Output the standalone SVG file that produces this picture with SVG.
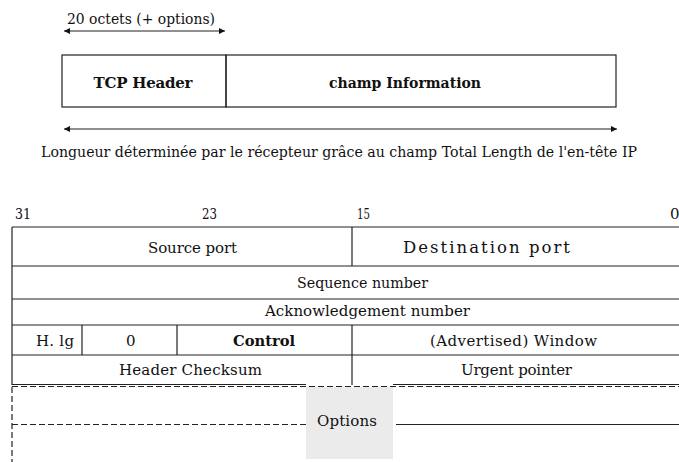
<svg xmlns="http://www.w3.org/2000/svg" width="679" height="462" viewBox="0 0 679 462">
  <style>
    text { font-family: "DejaVu Serif", "Liberation Serif", serif; font-size: 15px; fill: #111; }
    .b { font-weight: bold; }
    .mid { text-anchor: middle; }
    .big { font-size: 16.5px; }
    .ln { stroke: #222; stroke-width: 1.2; fill: none; }
    .dash { stroke: #222; stroke-width: 1.2; fill: none; stroke-dasharray: 6 3; }
  </style>
  <defs>
    <marker id="arr" viewBox="0 0 10 10" refX="10" refY="5" markerWidth="8" markerHeight="6" markerUnits="userSpaceOnUse" orient="auto-start-reverse">
      <path d="M0 0 L10 5 L0 10 Z" fill="#111"/>
    </marker>
  </defs>
  <rect width="679" height="462" fill="#fff"/>

  <!-- segment overview -->
  <g id="seg-size-label">
    <text x="67" y="24" textLength="148" lengthAdjust="spacingAndGlyphs">20 octets (+ options)</text>
  </g>
  <g id="tcp-header">
    <rect x="62" y="55" width="164" height="52" class="ln"/>
    <text x="143" y="88" class="b mid" textLength="99" lengthAdjust="spacing">TCP  Header</text>
  </g>
  <g id="champ-information">
    <rect x="226" y="55" width="390" height="52" class="ln"/>
    <text x="405" y="88" class="b mid" textLength="152" lengthAdjust="spacingAndGlyphs">champ Information</text>
  </g>
  <g id="length-label">
    <text x="41" y="157" textLength="596" lengthAdjust="spacingAndGlyphs">Longueur déterminée par le récepteur grâce au champ Total Length de l'en-tête IP</text>
  </g>

  <!-- header layout: bit positions -->
  <g id="bit-positions">
    <text x="15" y="219" textLength="16" lengthAdjust="spacingAndGlyphs">31</text>
    <text x="202" y="219" textLength="15" lengthAdjust="spacingAndGlyphs">23</text>
    <text x="357" y="219" textLength="13" lengthAdjust="spacingAndGlyphs">15</text>
    <text x="670" y="219">0</text>
  </g>

  <g id="grid">
    <line x1="12" y1="227" x2="679" y2="227" class="ln"/>
    <line x1="12" y1="266" x2="679" y2="266" class="ln"/>
    <line x1="12" y1="299" x2="679" y2="299" class="ln"/>
    <line x1="12" y1="325" x2="679" y2="325" class="ln"/>
    <line x1="12" y1="355" x2="679" y2="355" class="ln"/>
    <line x1="12" y1="384.5" x2="306" y2="384.5" class="ln"/>
    <line x1="393" y1="384.5" x2="679" y2="384.5" class="ln"/>
    <line x1="12" y1="227" x2="12" y2="385" class="ln"/>
    <line x1="352" y1="227" x2="352" y2="266" class="ln"/>
    <line x1="352" y1="325" x2="352" y2="385" class="ln"/>
    <line x1="82" y1="325" x2="82" y2="355" class="ln"/>
    <line x1="177" y1="325" x2="177" y2="355" class="ln"/>
  </g>

  <g id="source-port"><text x="148" y="253" textLength="89" lengthAdjust="spacing">Source port</text></g>
  <g id="destination-port"><text x="403" y="253" class="big" textLength="167" lengthAdjust="spacing">Destination port</text></g>
  <g id="sequence-number"><text x="297" y="288" textLength="131" lengthAdjust="spacingAndGlyphs">Sequence number</text></g>
  <g id="ack-number"><text x="265" y="316" textLength="205" lengthAdjust="spacing">Acknowledgement number</text></g>
  <g id="header-length"><text x="36" y="346" textLength="38" lengthAdjust="spacing">H. lg</text></g>
  <g id="reserved"><text x="126" y="346">0</text></g>
  <g id="control"><text x="233" y="346" class="b" textLength="62" lengthAdjust="spacingAndGlyphs">Control</text></g>
  <g id="window"><text x="430" y="346" textLength="167" lengthAdjust="spacing">(Advertised) Window</text></g>
  <g id="checksum"><text x="119" y="375" textLength="143" lengthAdjust="spacing">Header  Checksum</text></g>
  <g id="urgent-pointer"><text x="461" y="375" textLength="111" lengthAdjust="spacing">Urgent pointer</text></g>

  <g id="options">
    <rect x="306" y="387" width="87" height="72" fill="#ebebeb"/>
    <line x1="12" y1="386.5" x2="679" y2="386.5" class="dash"/>
    <line x1="12" y1="387" x2="12" y2="462" class="dash" stroke-dasharray="7 4"/>
    <line x1="12" y1="424.5" x2="306" y2="424.5" class="dash"/>
    <line x1="396" y1="424.5" x2="679" y2="424.5" class="ln"/>
    <text x="317" y="426" textLength="60" lengthAdjust="spacing">Options</text>
  </g>

  <!-- dimension arrows -->
  <g id="connectors">
    <line x1="64" y1="31" x2="225" y2="31" class="ln" marker-start="url(#arr)" marker-end="url(#arr)"/>
    <line x1="64" y1="129" x2="617" y2="129" class="ln" marker-start="url(#arr)" marker-end="url(#arr)"/>
  </g>
</svg>
